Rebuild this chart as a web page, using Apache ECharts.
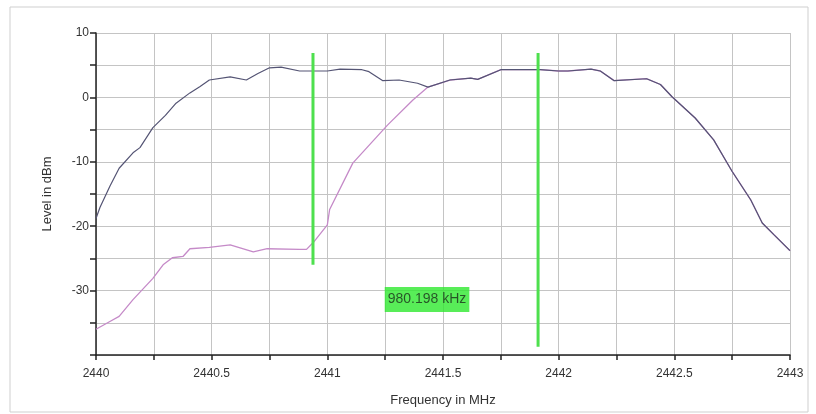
<!DOCTYPE html>
<html>
<head>
<meta charset="utf-8">
<script src="https://cdn.jsdelivr.net/npm/echarts@6/dist/echarts.min.js"></script>
<style>html,body{margin:0;padding:0;background:#fff}#c{width:816px;height:414px}</style>
</head>
<body>
<div id="c"></div>
<script>
// Dark trace (max hold)
const darkFreq = [2440.0, 2440.017, 2440.06, 2440.10, 2440.16, 2440.19, 2440.246, 2440.30, 2440.346, 2440.406, 2440.45, 2440.49, 2440.58, 2440.65, 2440.70, 2440.75, 2440.80, 2440.88, 2440.94, 2441.0, 2441.055, 2441.15, 2441.18, 2441.24, 2441.31, 2441.39, 2441.435,
  2441.53, 2441.62, 2441.65, 2441.75, 2441.92, 2442.0, 2442.04, 2442.14, 2442.18, 2442.24, 2442.38, 2442.44, 2442.49, 2442.59, 2442.67, 2442.75, 2442.83, 2442.88, 2442.93, 2443.0];
const darkLevel = [-18.8, -17.1, -13.8, -11.0, -8.6, -7.8, -4.7, -2.8, -0.9, 0.7, 1.7, 2.7, 3.2, 2.7, 3.7, 4.6, 4.7, 4.1, 4.1, 4.1, 4.4, 4.3, 4.0, 2.6, 2.7, 2.2, 1.6,
  2.7, 3.0, 2.8, 4.3, 4.3, 4.1, 4.1, 4.4, 4.1, 2.6, 2.9, 2.0, 0.1, -3.2, -6.6, -11.5, -15.9, -19.5, -21.3, -23.8];
// Pink trace (current)
const pinkFreq = [2440.0, 2440.06, 2440.10, 2440.16, 2440.246, 2440.29, 2440.33, 2440.376, 2440.406, 2440.49, 2440.58, 2440.68, 2440.74, 2440.88, 2440.91, 2440.94, 2441.0, 2441.01, 2441.11, 2441.26, 2441.37, 2441.435,
  2441.53, 2441.62, 2441.65, 2441.75, 2441.92, 2442.0, 2442.04, 2442.14, 2442.18, 2442.24, 2442.38, 2442.44, 2442.49, 2442.59, 2442.67, 2442.75, 2442.83, 2442.88, 2442.93, 2443.0];
const pinkLevel = [-36.0, -34.8, -34.0, -31.4, -28.1, -26.0, -24.9, -24.7, -23.5, -23.3, -22.9, -24.0, -23.5, -23.6, -23.6, -22.5, -19.8, -17.4, -10.2, -4.3, -0.4, 1.6,
  2.7, 3.0, 2.8, 4.3, 4.3, 4.1, 4.1, 4.4, 4.1, 2.6, 2.9, 2.0, 0.1, -3.2, -6.6, -11.5, -15.9, -19.5, -21.3, -23.8];
// Markers
const markerFreq = [2440.938, 2441.911];
const markerTop = [6.9, 6.9];
const markerBottom = [-26.0, -38.7];
const deltaLabel = "980.198 kHz";
const deltaPos = [2441.431, -31.4];
const xTicksLabeled = [2440, 2440.5, 2441, 2441.5, 2442, 2442.5, 2443];
const yTicksLabeled = [10, 0, -10, -20, -30];

const zip = (a, b) => a.map((v, i) => [v, b[i]]);
const chart = echarts.init(document.getElementById('c'));
const series = [
  {type: 'line', data: zip(pinkFreq, pinkLevel), showSymbol: false, lineStyle: {color: '#c58ac8', width: 1.3}, z: 2, animation: false},
  {type: 'line', data: zip(darkFreq, darkLevel), showSymbol: false, lineStyle: {color: '#545474', width: 1.2}, z: 3, animation: false}
];
markerFreq.forEach((f, i) => {
  series.push({type: 'line', data: [[f, markerTop[i]], [f, markerBottom[i]]], showSymbol: false,
    lineStyle: {color: '#4ee04e', width: 3}, z: 4, animation: false});
});
series.push({type: 'scatter', data: [deltaPos], symbolSize: 0, z: 5, animation: false,
  label: {show: true, position: 'inside', formatter: deltaLabel, backgroundColor: '#2ee82e',
    color: '#1c2e1c', fontFamily: 'Liberation Sans', fontSize: 14, padding: [6, 3, 5, 3]}});

chart.setOption({
  animation: false,
  grid: {left: 96, right: 26, top: 33, bottom: 59},
  graphic: [{type: 'rect', shape: {x: 10, y: 7, width: 798, height: 405},
    style: {fill: 'none', stroke: '#cfcfcf', lineWidth: 1}, silent: true}],
  xAxis: {
    type: 'value', min: 2440, max: 2443, interval: 0.25,
    name: 'Frequency in MHz', nameLocation: 'middle', nameGap: 39,
    nameTextStyle: {fontFamily: 'Liberation Sans', fontSize: 13, color: '#333'},
    axisLine: {onZero: false, lineStyle: {color: '#222', width: 1.5}},
    axisTick: {show: true, length: 5, lineStyle: {color: '#222', width: 1.5}},
    axisLabel: {fontFamily: 'Liberation Sans', fontSize: 12, color: '#333', margin: 13,
      formatter: v => xTicksLabeled.some(t => Math.abs(t - v) < 1e-6) ? String(+v.toFixed(1)) : ''},
    splitLine: {show: true, lineStyle: {color: '#c4c4c4', width: 1}}
  },
  yAxis: {
    type: 'value', min: -40, max: 10, interval: 5,
    name: 'Level in dBm', nameLocation: 'middle', nameGap: 42,
    nameTextStyle: {fontFamily: 'Liberation Sans', fontSize: 13, color: '#333'},
    axisLine: {show: true, onZero: false, lineStyle: {color: '#222', width: 1.5}},
    axisTick: {show: true, length: 6, lineStyle: {color: '#222', width: 1.5}},
    axisLabel: {fontFamily: 'Liberation Sans', fontSize: 12, color: '#333', margin: 7,
      formatter: v => yTicksLabeled.includes(v) ? String(v) : ''},
    splitLine: {show: true, lineStyle: {color: '#c4c4c4', width: 1}}
  },
  series: series
});
</script>
</body>
</html>
